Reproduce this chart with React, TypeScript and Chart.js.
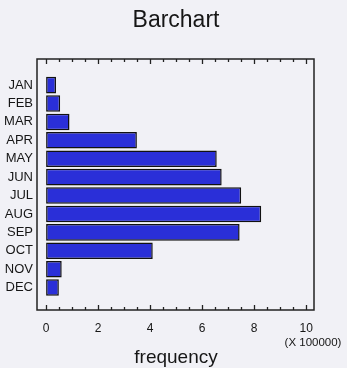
import React, { useEffect, useRef } from "react";
import { Chart, registerables } from "chart.js";

Chart.register(...registerables);

const months = ["JAN", "FEB", "MAR", "APR", "MAY", "JUN", "JUL", "AUG", "SEP", "OCT", "NOV", "DEC"];
const frequency = [38000, 54000, 90000, 349000, 656000, 675000, 750000, 827000, 744000, 410000, 60000, 49000];
const xTickValues = [0, 50000, 100000, 150000, 200000, 250000, 300000, 350000, 400000, 450000, 500000, 550000, 600000, 650000, 700000, 750000, 800000, 850000, 900000, 950000, 1000000];
const xMajorValues = [0, 200000, 400000, 600000, 800000, 1000000];
const xTickLabels = ["0", "2", "4", "6", "8", "10"];
const xMin = -35000;
const xMax = 1030000;
const xTitle = "frequency";
const xUnitLabel = "(X 100000)";
const chartTitle = "Barchart";

const FONT = "'Liberation Sans', Arial, sans-serif";
const BG = "#f1f1f6";
const INK = "#161616";

const decor = {
  id: "decor",
  beforeDraw(chart: any) {
    const { ctx, width, height } = chart;
    ctx.save();
    ctx.fillStyle = BG;
    ctx.fillRect(0, 0, width, height);
    ctx.restore();
  },
  afterDraw(chart: any) {
    const { ctx, chartArea } = chart;
    const xs = chart.scales.x;
    ctx.save();
    ctx.strokeStyle = "#222";
    ctx.lineWidth = 1.3;
    for (const t of xs.ticks) {
      const px = Math.round(xs.getPixelForValue(t.value)) + 0.5;
      const major = xMajorValues.includes(t.value);
      const len = major ? 5 : 3;
      ctx.beginPath();
      ctx.moveTo(px, chartArea.bottom);
      ctx.lineTo(px, chartArea.bottom - len);
      ctx.moveTo(px, chartArea.top);
      ctx.lineTo(px, chartArea.top + len);
      ctx.stroke();
    }
    ctx.lineWidth = 1.5;
    ctx.strokeRect(chartArea.left, chartArea.top, chartArea.right - chartArea.left, chartArea.bottom - chartArea.top);
    ctx.fillStyle = INK;
    ctx.textAlign = "center";
    ctx.textBaseline = "middle";
    const cx = (chartArea.left + chartArea.right) / 2 + 0.5;
    ctx.font = `23px ${FONT}`;
    ctx.fillText(chartTitle, cx, 21);
    ctx.font = `19px ${FONT}`;
    ctx.fillText(xTitle, cx, chartArea.bottom + 48);
    ctx.font = `11.5px ${FONT}`;
    ctx.fillText(xUnitLabel, chartArea.right - 1, chartArea.bottom + 33);
    ctx.restore();
  },
};

export default function App() {
  const ref = useRef<HTMLCanvasElement | null>(null);
  useEffect(() => {
    if (!ref.current) return;
    const chart = new Chart(ref.current, {
      type: "bar",
      data: {
        datasets: [
          {
            data: frequency.map((v, i) => ({ x: v, y: i })),
            backgroundColor: "#2a2fd8",
            borderColor: "#111111",
            borderWidth: 1.5,
            borderSkipped: false,
            barPercentage: 0.9,
            categoryPercentage: 1,
          },
        ],
      },
      options: {
        indexAxis: "y",
        animation: false,
        responsive: false,
        devicePixelRatio: 1,
        layout: { padding: { left: 0, right: 33, top: 59, bottom: 0 } },
        plugins: {
          legend: { display: false },
          tooltip: { enabled: false },
          title: { display: false },
        },
        scales: {
          x: {
            type: "linear",
            position: "bottom",
            min: xMin,
            max: xMax,
            grid: { display: false, drawTicks: false },
            border: { display: false },
            afterBuildTicks: (s: any) => {
              s.ticks = xTickValues.map((v) => ({ value: v }));
            },
            ticks: {
              autoSkip: false,
              maxRotation: 0,
              padding: 11,
              color: INK,
              font: { family: FONT, size: 12 },
              callback: (v: any) => {
                const k = xMajorValues.indexOf(Number(v));
                return k >= 0 ? xTickLabels[k] : "";
              },
            },
            afterFit: (s: any) => {
              s.height = 58;
            },
          },
          y: {
            type: "linear",
            reverse: true,
            min: -0.85,
            max: 11.65,
            grid: { display: false, drawTicks: false },
            border: { display: false },
            afterBuildTicks: (s: any) => {
              s.ticks = months.map((_, i) => ({ value: i }));
            },
            ticks: {
              padding: 4,
              autoSkip: false,
              color: INK,
              font: { family: FONT, size: 13 },
              callback: (v: any) => months[v] ?? "",
            },
            afterFit: (s: any) => {
              s.width = 37;
            },
          },
        },
      },
      plugins: [decor],
    });
    return () => chart.destroy();
  }, []);
  return (
    <div style={{ position: "absolute", left: 0, top: 0, width: 347, height: 368, background: BG }}>
      <canvas ref={ref} width={347} height={368} style={{ display: "block" }} />
    </div>
  );
}
